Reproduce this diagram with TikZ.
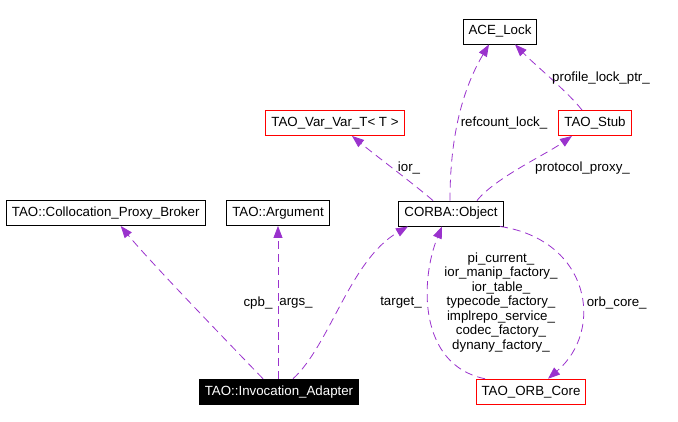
\documentclass[tikz,border=0pt]{standalone}
\usepackage{fontspec}
\setmainfont{Liberation Sans}
\usetikzlibrary{arrows.meta}
\definecolor{edgepurple}{HTML}{9A32CD}

\begin{document}
\begin{tikzpicture}
    [x=1pt, y=-1pt,
    every node/.style={font=\fontsize{13.3}{14.5}\selectfont},
    box/.style={draw=black, line width=0.9pt, fill=white, inner xsep=5.5pt, inner ysep=0pt, minimum height=25pt},
    redbox/.style={box, draw=red},
    uses/.style={draw=edgepurple, dash pattern=on 8pt off 5pt, line width=0.8pt,
      -{Triangle[length=12pt,width=9pt]}}]
    \useasboundingbox (0,0) rectangle (678,422);
    % classes
    \node[box] (ace) at (500,31.5) {ACE\_Lock};
    \node[redbox] (varvar) at (335,123) {TAO\_Var\_Var\_T< T >};
    \node[redbox] (stub) at (595,123) {TAO\_Stub};
    \node[box] (broker) at (105.7,213) {TAO::Collocation\_Proxy\_Broker};
    \node[box] (arg) at (278,213) {TAO::Argument};
    \node[box] (corba) at (451,213.5) {CORBA::Object};
    \node[box, fill=black, text=white] (ia) at (279,391.7) {TAO::Invocation\_Adapter};
    \node[redbox] (orb) at (531,391.7) {TAO\_ORB\_Core};
    % members
    \draw[uses] ([xshift=-16pt]ia.north) .. controls (245,360) and (150,262) .. ([xshift=15pt]broker.south);
    \draw[uses] (arg.south |- ia.north) -- (arg.south);
    \draw[uses] ([xshift=14pt]ia.north) .. controls (330,345) and (350,260) .. ([xshift=-43pt]corba.south);
    \draw[uses] ([xshift=-18pt]corba.north) .. controls (415,185) and (375,155) .. ([xshift=17pt]varvar.south);
    \draw[uses] ([xshift=-1pt]corba.north) .. controls (450,130) and (465,85) .. ([xshift=-11pt]ace.south);
    \draw[uses] ([xshift=-13pt]stub.north) .. controls (568,92) and (535,65) .. ([xshift=15pt]ace.south);
    \draw[uses] ([xshift=26pt]corba.north) .. controls (495,178) and (545,155) .. ([xshift=-23pt]stub.south);
    \draw[uses] ([xshift=-46pt]orb.north) .. controls (418,365) and (420,280) .. ([xshift=-9pt]corba.south);
    \draw[uses] ([xshift=49pt]corba.south) .. controls (590,240) and (605,330) .. ([xshift=17pt]orb.north);
    % labels
    \node (lcpb) at (258,303) {cpb\_};
    \node (largs) at (296,303) {args\_};
    \node (ltarget) at (401,303) {target\_};
    \node (lior) at (409,168) {ior\_};
    \node (lrefcount) at (504,123) {refcount\_lock\_};
    \node (lprofile) at (601,78) {profile\_lock\_ptr\_};
    \node (lprotocol) at (582.5,168) {protocol\_proxy\_};
    \node (lorbcore) at (616.7,303) {orb\_core\_};
    \node[align=center] (lorbmembers) at (501,302.5) {pi\_current\_\\ior\_manip\_factory\_\\ior\_table\_\\typecode\_factory\_\\implrepo\_service\_\\codec\_factory\_\\dynany\_factory\_};
\end{tikzpicture}
\end{document}
